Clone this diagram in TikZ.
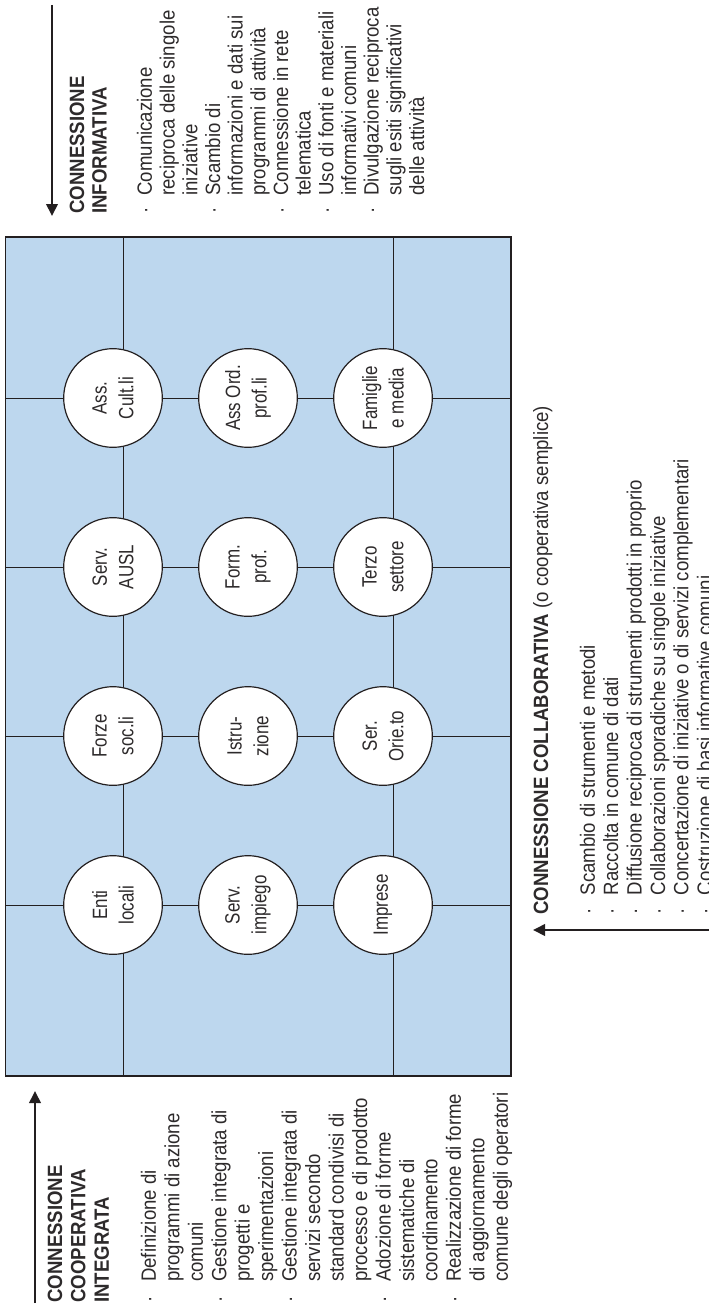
\documentclass[tikz,border=0pt]{standalone}
\usepackage{fontspec}
\setmainfont{Liberation Sans}[FakeStretch=0.9]
\newfontfamily\circfont{Liberation Sans}[FakeStretch=0.82]
\usetikzlibrary{arrows.meta}
\definecolor{boxblue}{RGB}{189,215,238}
\definecolor{ink}{RGB}{35,31,32}
\definecolor{txt}{RGB}{45,42,43}
\begin{document}
\begin{tikzpicture}[x=0.75pt,y=-0.75pt,
  board/.style={draw=ink, line width=1.1pt, fill=boxblue, inner sep=0pt},
  grid/.style={draw=ink, line width=0.75pt},
  org/.style={circle, draw=ink, line width=0.9pt, fill=white, minimum size=74pt,
    inner sep=0pt, align=center, text=txt, rotate=90,
    font=\circfont\fontsize{15.5}{20}\selectfont},
  arr/.style={draw=ink, line width=2pt, -{Triangle[length=9pt,width=8.5pt]}},
  blk/.style={rotate=90, anchor=base west, inner sep=0pt, text=txt},
]
\useasboundingbox (0,0) rectangle (709,1306);
\clip (0,0) rectangle (709,1306);

% board
\node[board, minimum width=379.1pt, minimum height=629.25pt] (board) at (258.25,656.5) {};

% circle centres
\foreach \r/\yy in {1/398,2/567,3/736,4/905}{
  \foreach \c/\xx in {1/113,2/248,3/383}{
    \coordinate (p\r\c) at (\xx,\yy);
  }
}
\coordinate (v1) at (123,656.5);
\coordinate (v2) at (393,656.5);

% grid lines
\foreach \r in {1,2,3,4}{
  \draw[grid] (board.west |- p\r1) -- (board.east |- p\r1);
}
\draw[grid] (board.north -| v1) -- (board.south -| v1);
\draw[grid] (board.north -| v2) -- (board.south -| v2);

% organisations
\node[org] (c11) at (p11) {Ass.\\Cult.li};
\node[org] (c12) at (p12) {Ass Ord.\\prof.li};
\node[org] (c13) at (p13) {Famiglie\\e media};
\node[org] (c21) at (p21) {Serv.\\AUSL};
\node[org] (c22) at (p22) {Form.\\prof.};
\node[org] (c23) at (p23) {Terzo\\settore};
\node[org] (c31) at (p31) {Forze\\soc.li};
\node[org] (c32) at (p32) {Istru-\\zione};
\node[org] (c33) at (p33) {Ser.\\Orie.to};
\node[org] (c41) at (p41) {Enti\\locali};
\node[org] (c42) at (p42) {Serv.\\impiego};
\node[org] (c43) at (p43) {Imprese};

% arrows
\coordinate (aT0) at (52,5);    \coordinate (aT1) at (52,216);
\coordinate (aL0) at (35,1303); \coordinate (aL1) at (35,1091);
\coordinate (aB0) at (712,930); \coordinate (aB1) at (533,930);
\draw[arr] (aT0) -- (aT1);
\draw[arr] (aL0) -- (aL1);
\draw[arr] (aB0) -- (aB1);

% text blocks
\node[blk, font=\fontsize{15.5}{17.0}\selectfont] (infoT) at (84,214) {\begin{tabular}[t]{@{}l@{\hspace{9pt}}l@{}}
\multicolumn{2}{@{}l@{}}{\bfseries CONNESSIONE}\\
\multicolumn{2}{@{}l@{}}{\bfseries INFORMATIVA}\\
 & \\
· & Comunicazione\\
 & reciproca delle singole\\
 & iniziative\\
· & Scambio di\\
 & informazioni e dati sui\\
 & programmi di attività\\
· & Connessione in rete\\
 & telematica\\
· & Uso di fonti e materiali\\
 & informativi comuni\\
· & Divulgazione reciproca\\
 & sugli esiti significativi\\
 & delle attività
\end{tabular}};

\node[blk, font=\fontsize{15.5}{17.6}\selectfont] (infoL) at (62,1303) {\begin{tabular}[t]{@{}l@{\hspace{11pt}}l@{}}
\multicolumn{2}{@{}l@{}}{\bfseries CONNESSIONE}\\
\multicolumn{2}{@{}l@{}}{\bfseries COOPERATIVA}\\
\multicolumn{2}{@{}l@{}}{\bfseries INTEGRATA}\\
 & \\
· & Definizione di\\
 & programmi di azione\\
 & comuni\\
· & Gestione integrata di\\
 & progetti e\\
 & sperimentazioni\\
· & Gestione integrata di\\
 & servizi secondo\\
 & standard condivisi di\\
 & processo e di prodotto\\
· & Adozione di forme\\
 & sistematiche di\\
 & coordinamento\\
· & Realizzazione di forme\\
 & di aggiornamento\\
 & comune degli operatori
\end{tabular}};

\node[blk, font=\fontsize{15.5}{17.55}\selectfont] (infoB) at (548,915) {\begin{tabular}[t]{@{}l@{\hspace{10pt}}l@{}}
\multicolumn{2}{@{}l@{}}{\textbf{CONNESSIONE COLLABORATIVA} (o cooperativa semplice)}\\
 & \\
· & Scambio di strumenti e metodi\\
· & Raccolta in comune di dati\\
· & Diffusione reciproca di strumenti prodotti in proprio\\
· & Collaborazioni sporadiche su singole iniziative\\
· & Concertazione di iniziative o di servizi complementari\\
· & Costruzione di basi informative comuni
\end{tabular}};
\end{tikzpicture}
\end{document}
